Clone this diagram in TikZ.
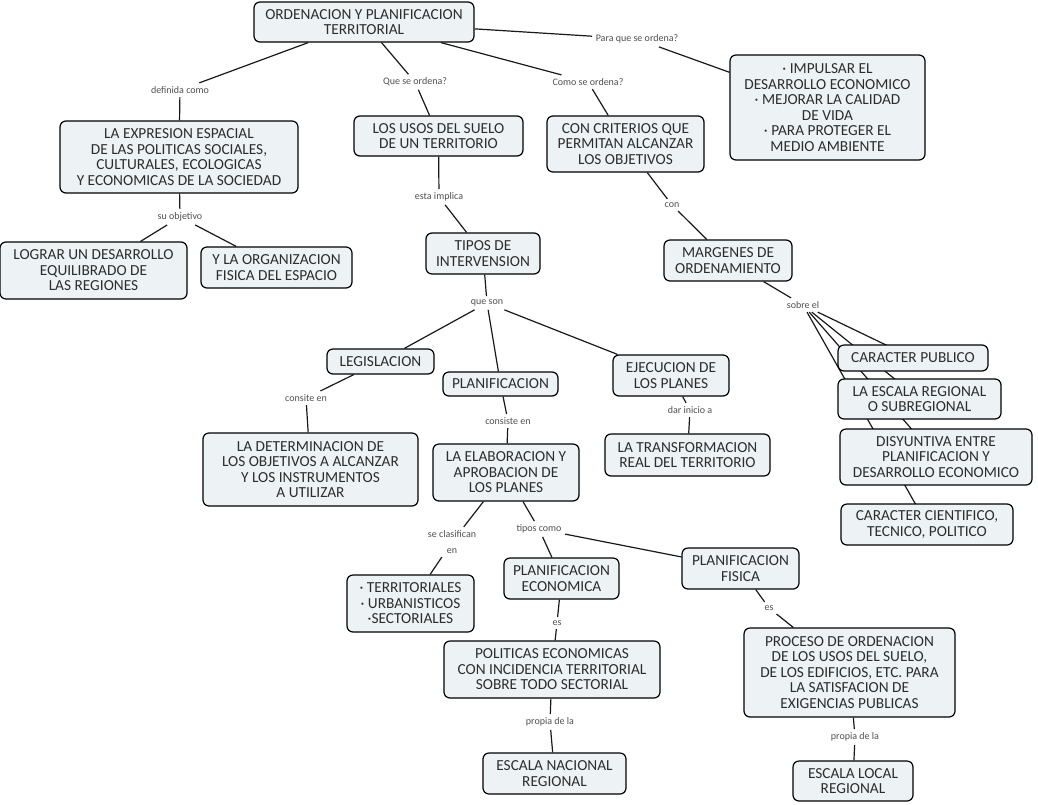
\documentclass[tikz,border=0pt]{standalone}
\usepackage{fontspec}
\setmainfont{Carlito}
\usetikzlibrary{backgrounds}
\definecolor{boxfill}{RGB}{237,243,245}
\definecolor{boxtext}{RGB}{45,45,45}
\definecolor{lbltext}{RGB}{80,80,80}
\definecolor{linkc}{RGB}{25,25,25}
\newcommand\cmapnode[6]{\node[cbox, minimum width={(#4-#2)*0.75pt}, minimum height={(#5-#3)*0.75pt}] (#1) at ({(#2+#4)/2},{(#3+#5)/2}) {#6};}
\begin{document}
\begin{tikzpicture}[x=0.75pt,y=-0.75pt,
  cbox/.style={draw=black, fill=boxfill, rounded corners=4.5pt, line width=0.9pt, align=center, inner sep=1pt, text=boxtext, font=\fontsize{11.5}{11.6}\selectfont},
  lbl/.style={text=lbltext, font=\fontsize{7.5}{9}\selectfont, inner sep=2.5pt, align=center},
  link/.style={draw=linkc, line width=0.9pt}]
\useasboundingbox (0,0) rectangle (1038,804);
% concepts
\cmapnode{top}{254}{2}{474}{42}{ORDENACION Y PLANIFICACION\\TERRITORIAL}
\cmapnode{expr}{60}{121}{298}{193}{LA EXPRESION  ESPACIAL\\DE LAS POLITICAS SOCIALES,\\CULTURALES, ECOLOGICAS\\Y ECONOMICAS DE LA SOCIEDAD}
\cmapnode{lograr}{0}{242}{187}{299}{LOGRAR UN DESARROLLO\\EQUILIBRADO DE\\LAS REGIONES}
\cmapnode{yla}{201}{247}{352}{288}{Y LA ORGANIZACION\\FISICA DEL ESPACIO}
\cmapnode{usos}{354}{116}{523}{156}{LOS USOS DEL SUELO\\DE UN TERRITORIO}
\cmapnode{tipos}{426}{233}{540}{274}{TIPOS DE\\INTERVENSION}
\cmapnode{criterios}{547}{116}{704}{172}{CON CRITERIOS QUE\\PERMITAN ALCANZAR\\LOS OBJETIVOS}
\cmapnode{impulsar}{730}{55}{925}{160}{· IMPULSAR EL\\DESARROLLO ECONOMICO\\· MEJORAR LA CALIDAD\\DE VIDA\\· PARA PROTEGER EL\\MEDIO AMBIENTE}
\cmapnode{margenes}{664}{240}{792}{281}{MARGENES DE\\ORDENAMIENTO}
\cmapnode{legis}{327}{349}{434}{374}{LEGISLACION}
\cmapnode{planif}{443}{372}{558}{396}{PLANIFICACION}
\cmapnode{ejec}{613}{355}{729}{396}{EJECUCION DE\\LOS PLANES}
\cmapnode{determ}{203}{433}{418}{506}{LA DETERMINACION DE\\LOS OBJETIVOS  A  ALCANZAR\\Y LOS INSTRUMENTOS\\A  UTILIZAR}
\cmapnode{elab}{433}{444}{579}{501}{LA ELABORACION Y\\APROBACION DE\\LOS PLANES}
\cmapnode{transf}{605}{434}{770}{476}{LA TRANSFORMACION\\REAL DEL TERRITORIO}
\cmapnode{cp}{838}{345}{988}{371}{CARACTER PUBLICO}
\cmapnode{escreg}{838}{379}{1001}{419}{LA ESCALA REGIONAL\\O SUBREGIONAL}
\cmapnode{disy}{840}{429}{1032}{485}{DISYUNTIVA ENTRE\\PLANIFICACION  Y\\DESARROLLO ECONOMICO}
\cmapnode{cient}{841}{504}{1013}{545}{CARACTER CIENTIFICO,\\TECNICO, POLITICO}
\cmapnode{territ}{347}{575}{474}{632}{· TERRITORIALES\\· URBANISTICOS\\·SECTORIALES}
\cmapnode{pecon}{504}{558}{619}{599}{PLANIFICACION\\ECONOMICA}
\cmapnode{pfis}{682}{548}{799}{589}{PLANIFICACION\\FISICA}
\cmapnode{polit}{444}{641}{660}{698}{POLITICAS ECONOMICAS\\CON INCIDENCIA TERRITORIAL\\SOBRE TODO SECTORIAL}
\cmapnode{proceso}{744}{628}{955}{717}{PROCESO DE ORDENACION\\DE  LOS USOS DEL SUELO,\\DE LOS EDIFICIOS, ETC. PARA\\LA  SATISFACION  DE\\EXIGENCIAS PUBLICAS}
\cmapnode{enac}{483}{753}{626}{794}{ESCALA NACIONAL\\REGIONAL}
\cmapnode{eloc}{793}{761}{913}{801}{ESCALA LOCAL\\REGIONAL}
% linking phrases
\node[lbl] (ldef) at (180,90) {definida como};
\node[lbl] (lque) at (415,82) {Que se ordena?};
\node[lbl] (lcomo) at (588,82) {Como se ordena?};
\node[lbl] (lpara) at (637,39) {Para que se ordena?};
\node[lbl] (lobj) at (180,217) {su objetivo};
\node[lbl] (limpl) at (439,197) {esta implica};
\node[lbl] (lcon) at (672,205) {con};
\node[lbl] (lson) at (487,303) {que son};
\node[lbl] (lsobre) at (803,305) {sobre el};
\node[lbl] (lconsite) at (306,398) {consite en};
\node[lbl] (lconsiste) at (508,421) {consiste en};
\node[lbl] (ldar) at (690,410) {dar inicio a};
\node[lbl] (lclas) at (452,542) {se clasifican\\[3pt]en};
\node[lbl] (ltipos) at (539,529) {tipos como};
\node[lbl] (les1) at (557,623) {es};
\node[lbl] (les2) at (769,608) {es};
\node[lbl] (lprop1) at (550,722) {propia de la};
\node[lbl] (lprop2) at (855,737) {propia de la};
% connectors
\begin{scope}[on background layer]
\fill[white] (0,0) rectangle (1038,804);
\draw[link] (top) -- (ldef);
\draw[link] (ldef) -- (expr);
\draw[link] (top) -- (lque);
\draw[link] (lque) -- (usos);
\draw[link] (top) -- (lcomo);
\draw[link] (lcomo) -- (criterios);
\draw[link] (top) -- (lpara);
\draw[link] (lpara) -- (impulsar);
\draw[link] (expr) -- (lobj);
\draw[link] (lobj) -- (lograr);
\draw[link] (lobj) -- (yla);
\draw[link] (usos) -- (limpl);
\draw[link] (limpl) -- (tipos);
\draw[link] (criterios) -- (lcon);
\draw[link] (lcon) -- (margenes);
\draw[link] (tipos) -- (lson);
\draw[link] (lson) -- (legis);
\draw[link] (lson) -- (planif);
\draw[link] (lson) -- (ejec);
\draw[link] (margenes) -- (lsobre);
\draw[link] (lsobre) -- (cp.center);
\draw[link] (lsobre) -- (escreg.center);
\draw[link] (lsobre) -- (disy.center);
\draw[link] (lsobre) -- (cient.center);
\draw[link] (legis) -- (lconsite);
\draw[link] (lconsite) -- (determ);
\draw[link] (planif) -- (lconsiste);
\draw[link] (lconsiste) -- (elab);
\draw[link] (ejec) -- (ldar);
\draw[link] (ldar) -- (transf);
\draw[link] (elab) -- (lclas);
\draw[link] (lclas) -- (territ);
\draw[link] (elab) -- (ltipos);
\draw[link] (ltipos) -- (pecon);
\draw[link] (ltipos) -- (pfis);
\draw[link] (pecon) -- (les1);
\draw[link] (les1) -- (polit);
\draw[link] (pfis) -- (les2);
\draw[link] (les2) -- (proceso);
\draw[link] (polit) -- (lprop1);
\draw[link] (lprop1) -- (enac);
\draw[link] (proceso) -- (lprop2);
\draw[link] (lprop2) -- (eloc);
\end{scope}
\end{tikzpicture}
\end{document}
